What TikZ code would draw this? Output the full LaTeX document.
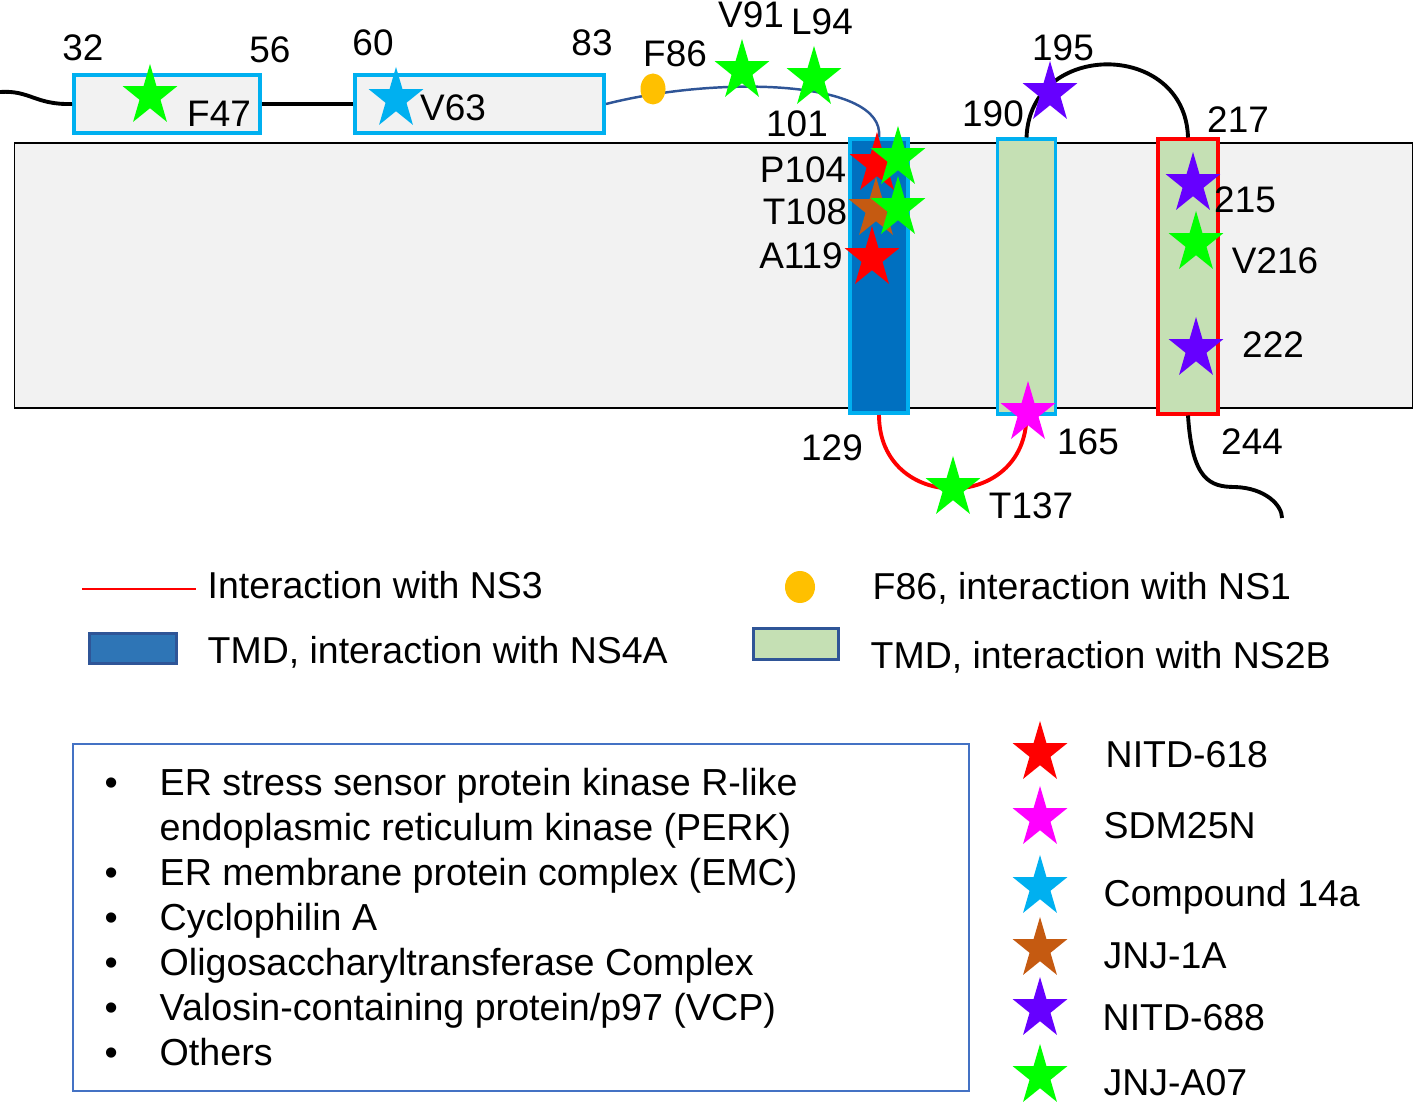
\documentclass[tikz,border=0pt]{standalone}
\usepackage{fontspec}
\setmainfont{Liberation Sans}
\usetikzlibrary{shapes.geometric,positioning}
\definecolor{tmdcyan}{HTML}{00B0F0}
\definecolor{ns4ablue}{HTML}{0070C0}
\definecolor{ns2bgreen}{HTML}{C5E0B4}
\definecolor{membgray}{HTML}{F2F2F2}
\definecolor{linkblue}{HTML}{2F5597}
\definecolor{ns1orange}{HTML}{FFC000}
\definecolor{legblue}{HTML}{2E75B6}
\definecolor{boxblue}{HTML}{4472C4}
\definecolor{starred}{HTML}{FF0000}
\definecolor{starmag}{HTML}{FF00FF}
\definecolor{starcyan}{HTML}{00B0F0}
\definecolor{starbrown}{HTML}{C55A11}
\definecolor{starpurple}{HTML}{6600FF}
\definecolor{stargreen}{HTML}{00FF00}
\tikzset{drugstar/.style={star,star points=5,star point ratio=2.618,inner sep=0pt,minimum size=0.64cm,xscale=0.9,fill=#1,draw=none}}
\tikzset{tmd/.style={line width=1.1pt,minimum width=0.58cm,minimum height=2.74cm,inner sep=0pt}}
\tikzset{amph/.style={draw=tmdcyan,fill=membgray,line width=1.1pt,minimum height=0.58cm,inner sep=0pt}}
\tikzset{loopline/.style={line width=1.1pt}}
\tikzset{lab/.style={inner sep=0pt}}
\tikzset{keytext/.style={inner sep=0pt,anchor=base west,font=\fontsize{10.65}{12.8}\selectfont}}

\begin{document}
\begin{tikzpicture}[x=0.01cm,y=-0.01cm,every node/.style={font=\fontsize{10.5}{12.8}\selectfont}]
% \draw[help lines,step=100] (0,0) grid (1413,1104);
\useasboundingbox (0,0) rectangle (1413,1104);
\node (memb) [draw=black,line width=0.5pt,fill=membgray,minimum width=13.97cm,minimum height=2.65cm,inner sep=0pt] at (713.5,275.5) {};
%
\node (tmd1) [tmd,draw=tmdcyan,fill=ns4ablue] at (879,276) {};
\node (tmd2) [tmd,draw=tmdcyan,fill=ns2bgreen] at (1026.5,276.5) {};
\node (tmd3) [tmd,draw=red,fill=ns2bgreen,minimum width=0.60cm] at (1188,276.5) {};
\node (amph1) [amph,minimum width=1.86cm] at (167,104) {};
\node (amph2) [amph,minimum width=2.49cm] at (479.5,104) {};
\coordinate (nterm) at (0,92);
\coordinate (cterm) at (1282,518);
%
\draw[loopline] (nterm) .. controls (30,90) and (35,105) .. (amph1.west);
\draw[loopline] (amph1.east) -- (amph2.west);
\draw[linkblue,line width=0.7pt] (amph2.east) .. controls (720,75) and (885,80) .. (tmd1.north);
\draw[loopline,red] (tmd1.south) .. controls (879,513) and (1026,513) .. (tmd2.south);
\draw[loopline] (tmd2.north) .. controls (1030,40) and (1185,40) .. (tmd3.north);
\draw[loopline] (tmd3.south) .. controls (1192,480) and (1210,487) .. (1235,487) .. controls (1265,488) and (1282,505) .. (cterm);
\node (f86dot) [ellipse,fill=ns1orange,minimum width=0.25cm,minimum height=0.31cm,inner sep=0pt] at (653,89) {};
%
\node (s47) [drugstar=stargreen] at (150,96) {};
\node (s63) [drugstar=starcyan] at (396,99) {};
\node (s91) [drugstar=stargreen] at (742,71) {};
\node (s94) [drugstar=stargreen] at (814,78) {};
\node (s104r) [drugstar=starred] at (877,164) {};
\node (s108b) [drugstar=starbrown] at (876,209) {};
\node (s119r) [drugstar=starred] at (872,258) {};
\node (s104g) [drugstar=stargreen] at (898,158) {};
\node (s108g) [drugstar=stargreen] at (898,208) {};
\node (s137) [drugstar=stargreen] at (953,488) {};
\node (s165) [drugstar=starmag] at (1028,413) {};
\node (s195) [drugstar=starpurple] at (1050,93) {};
\node (s215) [drugstar=starpurple] at (1193,184) {};
\node (s216) [drugstar=stargreen] at (1196,243) {};
\node (s222) [drugstar=starpurple] at (1196,349) {};
%
\node (l32) [lab] at (83,48) {32};
\node (l56) [lab] at (270,50) {56};
\node (l60) [lab] at (373,43) {60};
\node (l83) [lab] at (592,43) {83};
\node (l47) [lab] at (219,113.5) {F47};
\node (l63) [lab] at (453,108) {V63};
\node (l86) [lab] at (675,53.5) {F86};
\node (l91) [lab] at (751,14.5) {V91};
\node (l94) [lab] at (822,21.5) {L94};
\node (l101) [lab] at (797,124) {101};
\node (l104) [lab] at (803,170) {P104};
\node (l108) [lab] at (805,212) {T108};
\node (l119) [lab] at (801,255.5) {A119};
\node (l129) [lab] at (832,448) {129};
\node (l137) [lab] at (1031,505.5) {T137};
\node (l165) [lab] at (1088,442) {165};
\node (l190) [lab] at (993,113.5) {190};
\node (l195) [lab] at (1063,48) {195};
\node (l217) [lab] at (1238,120) {217};
\node (l215) [lab] at (1245,200) {215};
\node (l216) [lab] at (1275,261) {V216};
\node (l222) [lab] at (1273,345) {222};
\node (l244) [lab] at (1252,441.5) {244};
% key
\coordinate (ns3a) at (82,589);
\coordinate (ns3b) at (196,589);
\draw[red,line width=0.6pt] (ns3a) -- (ns3b);
\node (kns3) [keytext] at (207,599) {Interaction with NS3};
\node (k4a) [draw=linkblue,fill=legblue,line width=0.85pt,minimum width=0.87cm,minimum height=0.30cm,inner sep=0pt] at (133,648.5) {};
\node (kns4a) [keytext] at (207,663) {TMD, interaction with NS4A};
\node (kdot) [ellipse,fill=ns1orange,minimum width=0.30cm,minimum height=0.32cm,inner sep=0pt] at (800,587) {};
\node (kns1) [keytext] at (872,600) {F86, interaction with NS1};
\node (k2b) [draw=linkblue,fill=ns2bgreen,line width=0.85pt,minimum width=0.85cm,minimum height=0.30cm,inner sep=0pt] at (796,644) {};
\node (kns2b) [keytext] at (870,669) {TMD, interaction with NS2B};
%
\node (hostbox) [draw=boxblue,line width=0.5pt,minimum width=8.96cm,minimum height=3.47cm,inner sep=0pt] at (521,917.5) {};
\node (hostlist) [lab,anchor=base west,font=\fontsize{10.7}{12.8}\selectfont] at (104,795) {\begin{tabular}[t]{@{}p{0.55cm}@{}l@{}}
\textbullet & ER stress sensor protein kinase R-like\\
 & endoplasmic reticulum kinase (PERK)\\
\textbullet & ER membrane protein complex (EMC)\\
\textbullet & Cyclophilin A\\
\textbullet & Oligosaccharyltransferase Complex\\
\textbullet & Valosin-containing protein/p97 (VCP)\\
\textbullet & Others
\end{tabular}};
%
\node (k618) [drugstar=starred] at (1040,753) {};
\node (k25n) [drugstar=starmag] at (1040,818) {};
\node (k14a) [drugstar=starcyan] at (1040,887) {};
\node (k1a) [drugstar=starbrown] at (1040,949) {};
\node (k688) [drugstar=starpurple] at (1040,1009) {};
\node (ka07) [drugstar=stargreen] at (1040,1076) {};
\node (t618) [keytext] at (1105,767) {NITD-618};
\node (t25n) [keytext] at (1103,838) {SDM25N};
\node (t14a) [keytext] at (1103,906) {Compound 14a};
\node (t1a) [keytext] at (1103,968) {JNJ-1A};
\node (t688) [keytext] at (1102,1030) {NITD-688};
\node (ta07) [keytext] at (1103,1095) {JNJ-A07};
\end{tikzpicture}
\end{document}
